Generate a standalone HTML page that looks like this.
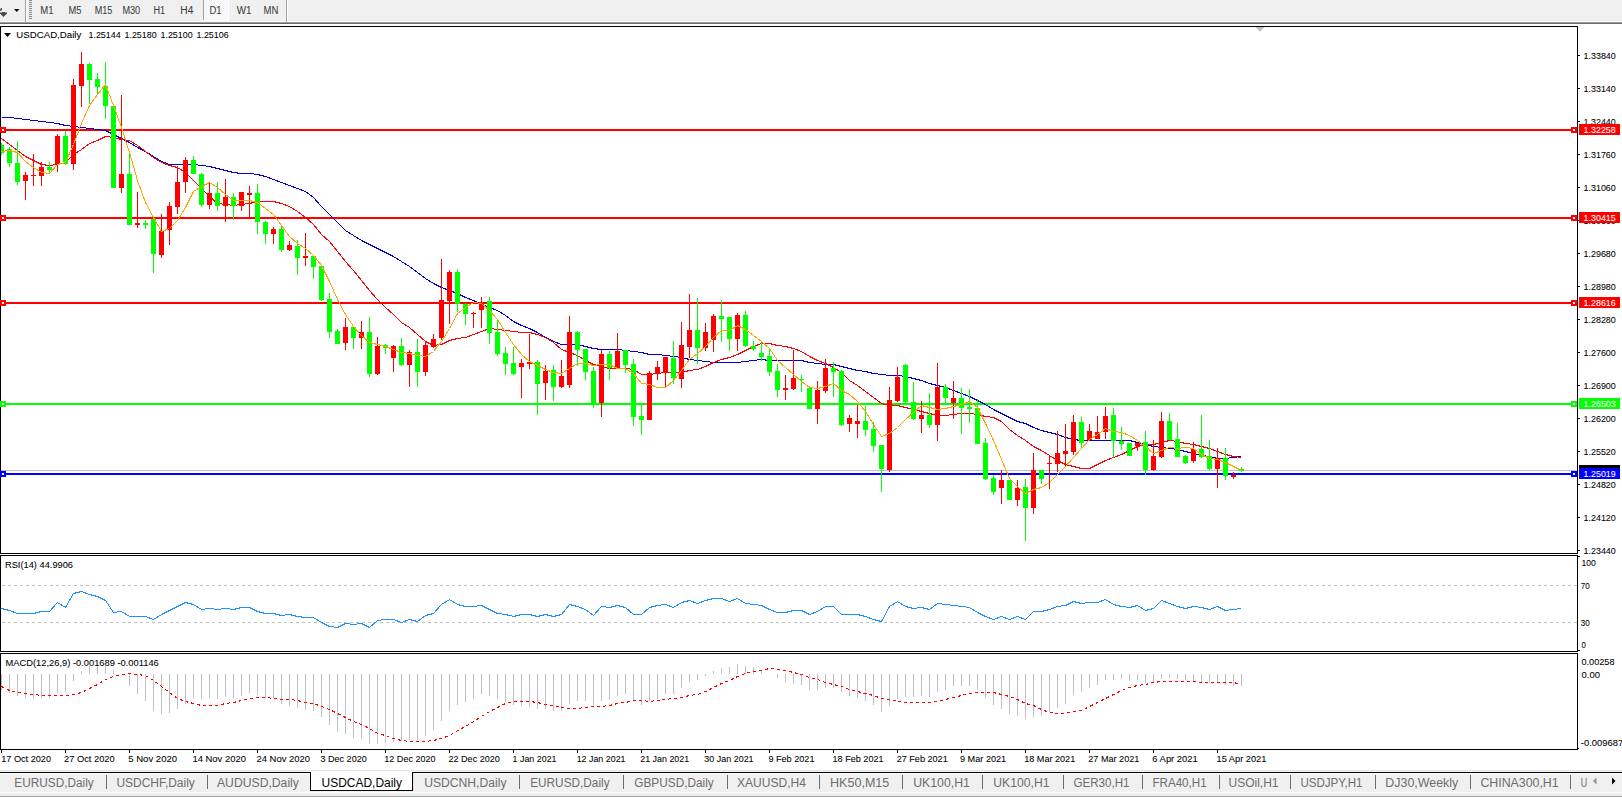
<!DOCTYPE html>
<html><head><meta charset="utf-8"><title>USDCAD,Daily</title>
<style>
html,body{margin:0;padding:0;background:#fff;overflow:hidden;}
svg{display:block;font-family:"Liberation Sans", sans-serif;}
rect{shape-rendering:crispEdges;}
polyline{shape-rendering:crispEdges;}
line{shape-rendering:crispEdges;}
</style></head><body>
<svg width="1622" height="797" viewBox="0 0 1622 797">
<rect x="0" y="0" width="1622" height="797" fill="#fff"/>
<rect x="0" y="0" width="1622" height="21" fill="#f0f0f0"/>
<rect x="0" y="21" width="1622" height="1" fill="#f7f7f7"/>
<rect x="0" y="22" width="1622" height="1" fill="#a0a0a0"/>
<rect x="0" y="23" width="1622" height="1" fill="#696969"/>
<path d="M0 12.6 L7 12.6 L7 13.6 L3.5 17 L0 13.6 Z" fill="#484848"/>
<rect x="2" y="12" width="3" height="1" fill="#484848"/>
<path d="M0 10.9 L0 9.6 L1.1 7.9 L2 7.9 L2 9.2 L0.9 10.9 Z" fill="#484848"/>
<path d="M14 9 L19.5 9 L16.75 12 Z" fill="#000"/>
<rect x="25" y="0" width="1" height="22" fill="#a0a0a0"/>
<rect x="26" y="0" width="1" height="22" fill="#ffffff"/>
<rect x="29" y="0" width="3" height="1" fill="#8a8a8a"/>
<rect x="29" y="2" width="3" height="1" fill="#8a8a8a"/>
<rect x="29" y="4" width="3" height="1" fill="#8a8a8a"/>
<rect x="29" y="6" width="3" height="1" fill="#8a8a8a"/>
<rect x="29" y="8" width="3" height="1" fill="#8a8a8a"/>
<rect x="29" y="10" width="3" height="1" fill="#8a8a8a"/>
<rect x="29" y="12" width="3" height="1" fill="#8a8a8a"/>
<rect x="29" y="14" width="3" height="1" fill="#8a8a8a"/>
<rect x="29" y="16" width="3" height="1" fill="#8a8a8a"/>
<rect x="29" y="18" width="3" height="1" fill="#8a8a8a"/>
<defs><pattern id="dith" width="2" height="2" patternUnits="userSpaceOnUse"><rect width="2" height="2" fill="#f0f0f0"/><rect width="1" height="1" fill="#ffffff"/><rect x="1" y="1" width="1" height="1" fill="#ffffff"/></pattern></defs>
<rect x="203" y="0" width="26" height="21" fill="url(#dith)"/>
<rect x="203" y="0" width="1" height="20" fill="#a0a0a0"/>
<rect x="228" y="0" width="1" height="21" fill="#ffffff"/>
<rect x="203" y="20" width="26" height="1" fill="#ffffff"/>
<rect x="286" y="0" width="1" height="22" fill="#a0a0a0"/>
<rect x="287" y="0" width="1" height="22" fill="#ffffff"/>
<text x="40.3" y="13.9" font-size="10.01" fill="#404040" stroke="#404040" stroke-width="0.07" textLength="13.3" lengthAdjust="spacingAndGlyphs">M1</text>
<text x="68.4" y="13.9" font-size="10.01" fill="#404040" stroke="#404040" stroke-width="0.07" textLength="13.0" lengthAdjust="spacingAndGlyphs">M5</text>
<text x="94.7" y="13.9" font-size="10.01" fill="#404040" stroke="#404040" stroke-width="0.07" textLength="17.6" lengthAdjust="spacingAndGlyphs">M15</text>
<text x="122.4" y="13.9" font-size="10.01" fill="#404040" stroke="#404040" stroke-width="0.07" textLength="17.8" lengthAdjust="spacingAndGlyphs">M30</text>
<text x="153.5" y="13.9" font-size="10.01" fill="#404040" stroke="#404040" stroke-width="0.07" textLength="11.7" lengthAdjust="spacingAndGlyphs">H1</text>
<text x="180.3" y="13.9" font-size="10.01" fill="#404040" stroke="#404040" stroke-width="0.07" textLength="13.0" lengthAdjust="spacingAndGlyphs">H4</text>
<text x="209.5" y="13.9" font-size="10.01" fill="#404040" stroke="#404040" stroke-width="0.07" textLength="12.1" lengthAdjust="spacingAndGlyphs">D1</text>
<text x="236.7" y="13.9" font-size="10.01" fill="#404040" stroke="#404040" stroke-width="0.07" textLength="14.8" lengthAdjust="spacingAndGlyphs">W1</text>
<text x="263.5" y="13.9" font-size="10.01" fill="#404040" stroke="#404040" stroke-width="0.07" textLength="14.8" lengthAdjust="spacingAndGlyphs">MN</text>
<rect x="0" y="26" width="1578" height="1" fill="#000"/>
<rect x="0" y="553" width="1578" height="1" fill="#000"/>
<rect x="0" y="26" width="1" height="528" fill="#000"/>
<rect x="1577" y="26" width="1" height="528" fill="#000"/>
<rect x="0" y="555" width="1578" height="1" fill="#000"/>
<rect x="0" y="651" width="1578" height="1" fill="#000"/>
<rect x="0" y="555" width="1" height="97" fill="#000"/>
<rect x="1577" y="555" width="1" height="97" fill="#000"/>
<rect x="0" y="653" width="1578" height="1" fill="#000"/>
<rect x="0" y="749" width="1578" height="1" fill="#000"/>
<rect x="0" y="653" width="1" height="97" fill="#000"/>
<rect x="1577" y="653" width="1" height="97" fill="#000"/>
<path d="M1255.5 27 L1264.5 27 L1260 31.8 Z" fill="#c0c0c0"/>
<clipPath id="mainclip"><rect x="1" y="27" width="1576" height="526"/></clipPath>
<g clip-path="url(#mainclip)">
<rect x="1" y="470" width="1576" height="1" fill="#c0c0c0"/>
<rect x="1" y="129" width="1576" height="2" fill="#ff0000"/>
<rect x="1" y="217" width="1576" height="2" fill="#ff0000"/>
<rect x="1" y="302" width="1576" height="2" fill="#ff0000"/>
<rect x="1" y="403" width="1576" height="2" fill="#00ff00"/>
<rect x="1" y="473" width="1576" height="2" fill="#0000ff"/>
<polyline points="1.5,117.5 9.5,117.5 17.5,118.5 25.5,119.5 33.5,120.5 41.5,121.5 49.5,122.5 57.5,123.5 65.5,125.5 73.5,126.5 81.5,127.5 89.5,128.5 97.5,129.5 105.5,130.5 113.5,134.5 121.5,138.5 129.5,142.5 137.5,147.5 145.5,151.5 153.5,156.5 161.5,161.5 169.5,164.5 177.5,164.5 185.5,164.5 193.5,164.5 201.5,165.5 209.5,166.5 217.5,168.5 225.5,170.5 233.5,172.5 241.5,173.5 249.5,173.5 257.5,174.5 265.5,176.5 273.5,179.5 281.5,182.5 289.5,185.5 297.5,188.5 305.5,191.5 313.5,197.5 321.5,206.5 329.5,214.5 337.5,222.5 345.5,230.5 353.5,235.5 361.5,240.5 369.5,244.5 377.5,248.5 385.5,252.5 393.5,256.5 401.5,261.5 409.5,266.5 417.5,272.5 425.5,278.5 433.5,283.5 441.5,287.5 449.5,290.5 457.5,293.5 465.5,297.5 473.5,300.5 481.5,304.5 489.5,307.5 497.5,310.5 505.5,315.5 513.5,321.5 521.5,325.5 529.5,328.5 537.5,332.5 545.5,337.5 553.5,341.5 561.5,344.5 569.5,344.5 577.5,344.5 585.5,346.5 593.5,348.5 601.5,349.5 609.5,349.5 617.5,349.5 625.5,350.5 633.5,351.5 641.5,352.5 649.5,354.5 657.5,354.5 665.5,355.5 673.5,356.5 681.5,357.5 689.5,359.5 697.5,360.5 705.5,361.5 713.5,362.5 721.5,362.5 729.5,362.5 737.5,362.5 745.5,361.5 753.5,360.5 761.5,359.5 769.5,360.5 777.5,360.5 785.5,360.5 793.5,360.5 801.5,360.5 809.5,362.5 817.5,363.5 825.5,364.5 833.5,364.5 841.5,366.5 849.5,368.5 857.5,370.5 865.5,371.5 873.5,373.5 881.5,374.5 889.5,375.5 897.5,375.5 905.5,376.5 913.5,378.5 921.5,380.5 929.5,383.5 937.5,385.5 945.5,387.5 953.5,390.5 961.5,393.5 969.5,396.5 977.5,400.5 985.5,404.5 993.5,409.5 1001.5,413.5 1009.5,417.5 1017.5,421.5 1025.5,423.5 1033.5,427.5 1041.5,430.5 1049.5,432.5 1057.5,434.5 1065.5,437.5 1073.5,439.5 1081.5,440.5 1089.5,440.5 1097.5,440.5 1105.5,440.5 1113.5,440.5 1121.5,440.5 1129.5,440.5 1137.5,442.5 1145.5,444.5 1153.5,446.5 1161.5,447.5 1169.5,448.5 1177.5,449.5 1185.5,451.5 1193.5,453.5 1201.5,455.5 1209.5,456.5 1217.5,458.5 1225.5,458.5 1233.5,457.5 1241.5,456.5" fill="none" stroke="#0000cd" stroke-width="1" />
<polyline points="1.5,138.5 9.5,144.5 17.5,150.5 25.5,156.5 33.5,160.5 41.5,164.5 49.5,165.5 57.5,164.5 65.5,162.5 73.5,154.5 81.5,149.5 89.5,143.5 97.5,140.5 105.5,136.5 113.5,137.5 121.5,139.5 129.5,140.5 137.5,145.5 145.5,151.5 153.5,157.5 161.5,162.5 169.5,165.5 177.5,167.5 185.5,172.5 193.5,180.5 201.5,188.5 209.5,196.5 217.5,203.5 225.5,204.5 233.5,205.5 241.5,204.5 249.5,203.5 257.5,201.5 265.5,201.5 273.5,201.5 281.5,203.5 289.5,206.5 297.5,211.5 305.5,217.5 313.5,224.5 321.5,234.5 329.5,241.5 337.5,251.5 345.5,261.5 353.5,270.5 361.5,280.5 369.5,290.5 377.5,299.5 385.5,307.5 393.5,314.5 401.5,322.5 409.5,327.5 417.5,334.5 425.5,341.5 433.5,345.5 441.5,344.5 449.5,340.5 457.5,338.5 465.5,337.5 473.5,334.5 481.5,331.5 489.5,328.5 497.5,329.5 505.5,330.5 513.5,331.5 521.5,332.5 529.5,332.5 537.5,334.5 545.5,337.5 553.5,342.5 561.5,349.5 569.5,352.5 577.5,355.5 585.5,360.5 593.5,364.5 601.5,366.5 609.5,368.5 617.5,368.5 625.5,368.5 633.5,369.5 641.5,374.5 649.5,374.5 657.5,373.5 665.5,372.5 673.5,372.5 681.5,372.5 689.5,370.5 697.5,369.5 705.5,366.5 713.5,362.5 721.5,359.5 729.5,357.5 737.5,354.5 745.5,350.5 753.5,346.5 761.5,343.5 769.5,343.5 777.5,345.5 785.5,346.5 793.5,348.5 801.5,351.5 809.5,356.5 817.5,360.5 825.5,363.5 833.5,367.5 841.5,372.5 849.5,380.5 857.5,385.5 865.5,391.5 873.5,397.5 881.5,403.5 889.5,405.5 897.5,405.5 905.5,407.5 913.5,409.5 921.5,411.5 929.5,413.5 937.5,415.5 945.5,415.5 953.5,414.5 961.5,413.5 969.5,413.5 977.5,414.5 985.5,416.5 993.5,417.5 1001.5,421.5 1009.5,429.5 1017.5,435.5 1025.5,440.5 1033.5,446.5 1041.5,450.5 1049.5,455.5 1057.5,460.5 1065.5,464.5 1073.5,466.5 1081.5,468.5 1089.5,468.5 1097.5,464.5 1105.5,460.5 1113.5,457.5 1121.5,454.5 1129.5,450.5 1137.5,446.5 1145.5,444.5 1153.5,444.5 1161.5,442.5 1169.5,440.5 1177.5,441.5 1185.5,443.5 1193.5,444.5 1201.5,446.5 1209.5,448.5 1217.5,451.5 1225.5,454.5 1233.5,456.5 1241.5,457.5" fill="none" stroke="#ff0000" stroke-width="1" />
<rect x="1" y="143" width="1" height="12" fill="#00ff00"/>
<rect x="-1" y="145" width="5" height="8" fill="#00ff00"/>
<rect x="9" y="147" width="1" height="20" fill="#00ff00"/>
<rect x="7" y="149" width="5" height="14" fill="#00ff00"/>
<rect x="17" y="141" width="1" height="44" fill="#00ff00"/>
<rect x="15" y="163" width="5" height="19" fill="#00ff00"/>
<rect x="25" y="172" width="1" height="28" fill="#ff0000"/>
<rect x="23" y="175" width="5" height="6" fill="#ff0000"/>
<rect x="33" y="154" width="1" height="32" fill="#ff0000"/>
<rect x="31" y="175" width="5" height="1" fill="#ff0000"/>
<rect x="41" y="162" width="1" height="24" fill="#ff0000"/>
<rect x="39" y="167" width="5" height="9" fill="#ff0000"/>
<rect x="49" y="162" width="1" height="11" fill="#00ff00"/>
<rect x="47" y="167" width="5" height="3" fill="#00ff00"/>
<rect x="57" y="134" width="1" height="38" fill="#ff0000"/>
<rect x="55" y="136" width="5" height="28" fill="#ff0000"/>
<rect x="65" y="131" width="1" height="34" fill="#00ff00"/>
<rect x="63" y="136" width="5" height="28" fill="#00ff00"/>
<rect x="73" y="79" width="1" height="91" fill="#ff0000"/>
<rect x="71" y="85" width="5" height="79" fill="#ff0000"/>
<rect x="81" y="52" width="1" height="55" fill="#ff0000"/>
<rect x="79" y="64" width="5" height="22" fill="#ff0000"/>
<rect x="89" y="63" width="1" height="41" fill="#00ff00"/>
<rect x="87" y="64" width="5" height="16" fill="#00ff00"/>
<rect x="97" y="73" width="1" height="22" fill="#00ff00"/>
<rect x="95" y="79" width="5" height="8" fill="#00ff00"/>
<rect x="105" y="62" width="1" height="57" fill="#00ff00"/>
<rect x="103" y="86" width="5" height="20" fill="#00ff00"/>
<rect x="113" y="106" width="1" height="82" fill="#00ff00"/>
<rect x="111" y="106" width="5" height="82" fill="#00ff00"/>
<rect x="121" y="95" width="1" height="98" fill="#ff0000"/>
<rect x="119" y="174" width="5" height="14" fill="#ff0000"/>
<rect x="129" y="153" width="1" height="72" fill="#00ff00"/>
<rect x="127" y="174" width="5" height="51" fill="#00ff00"/>
<rect x="137" y="192" width="1" height="36" fill="#ff0000"/>
<rect x="135" y="223" width="5" height="2" fill="#ff0000"/>
<rect x="145" y="220" width="1" height="9" fill="#00ff00"/>
<rect x="143" y="223" width="5" height="2" fill="#00ff00"/>
<rect x="153" y="219" width="1" height="54" fill="#00ff00"/>
<rect x="151" y="219" width="5" height="35" fill="#00ff00"/>
<rect x="161" y="214" width="1" height="44" fill="#ff0000"/>
<rect x="159" y="231" width="5" height="24" fill="#ff0000"/>
<rect x="169" y="202" width="1" height="43" fill="#ff0000"/>
<rect x="167" y="206" width="5" height="24" fill="#ff0000"/>
<rect x="177" y="166" width="1" height="48" fill="#ff0000"/>
<rect x="175" y="182" width="5" height="25" fill="#ff0000"/>
<rect x="185" y="157" width="1" height="36" fill="#ff0000"/>
<rect x="183" y="160" width="5" height="22" fill="#ff0000"/>
<rect x="193" y="156" width="1" height="18" fill="#00ff00"/>
<rect x="191" y="160" width="5" height="14" fill="#00ff00"/>
<rect x="201" y="173" width="1" height="34" fill="#00ff00"/>
<rect x="199" y="174" width="5" height="31" fill="#00ff00"/>
<rect x="209" y="183" width="1" height="26" fill="#ff0000"/>
<rect x="207" y="193" width="5" height="12" fill="#ff0000"/>
<rect x="217" y="182" width="1" height="29" fill="#00ff00"/>
<rect x="215" y="193" width="5" height="13" fill="#00ff00"/>
<rect x="225" y="179" width="1" height="43" fill="#ff0000"/>
<rect x="223" y="197" width="5" height="9" fill="#ff0000"/>
<rect x="233" y="193" width="1" height="27" fill="#00ff00"/>
<rect x="231" y="197" width="5" height="9" fill="#00ff00"/>
<rect x="241" y="192" width="1" height="19" fill="#ff0000"/>
<rect x="239" y="192" width="5" height="14" fill="#ff0000"/>
<rect x="249" y="186" width="1" height="31" fill="#ff0000"/>
<rect x="247" y="193" width="5" height="2" fill="#ff0000"/>
<rect x="257" y="184" width="1" height="50" fill="#00ff00"/>
<rect x="255" y="193" width="5" height="29" fill="#00ff00"/>
<rect x="265" y="221" width="1" height="23" fill="#00ff00"/>
<rect x="263" y="222" width="5" height="12" fill="#00ff00"/>
<rect x="273" y="227" width="1" height="17" fill="#ff0000"/>
<rect x="271" y="229" width="5" height="5" fill="#ff0000"/>
<rect x="281" y="226" width="1" height="26" fill="#00ff00"/>
<rect x="279" y="229" width="5" height="21" fill="#00ff00"/>
<rect x="289" y="241" width="1" height="10" fill="#ff0000"/>
<rect x="287" y="245" width="5" height="5" fill="#ff0000"/>
<rect x="297" y="240" width="1" height="35" fill="#00ff00"/>
<rect x="295" y="246" width="5" height="12" fill="#00ff00"/>
<rect x="305" y="233" width="1" height="33" fill="#ff0000"/>
<rect x="303" y="256" width="5" height="2" fill="#ff0000"/>
<rect x="313" y="255" width="1" height="24" fill="#00ff00"/>
<rect x="311" y="256" width="5" height="11" fill="#00ff00"/>
<rect x="321" y="265" width="1" height="36" fill="#00ff00"/>
<rect x="319" y="266" width="5" height="34" fill="#00ff00"/>
<rect x="329" y="293" width="1" height="45" fill="#00ff00"/>
<rect x="327" y="299" width="5" height="33" fill="#00ff00"/>
<rect x="337" y="329" width="1" height="15" fill="#00ff00"/>
<rect x="335" y="331" width="5" height="13" fill="#00ff00"/>
<rect x="345" y="318" width="1" height="32" fill="#ff0000"/>
<rect x="343" y="327" width="5" height="16" fill="#ff0000"/>
<rect x="353" y="327" width="1" height="22" fill="#00ff00"/>
<rect x="351" y="327" width="5" height="11" fill="#00ff00"/>
<rect x="361" y="321" width="1" height="28" fill="#ff0000"/>
<rect x="359" y="332" width="5" height="6" fill="#ff0000"/>
<rect x="369" y="317" width="1" height="60" fill="#00ff00"/>
<rect x="367" y="332" width="5" height="42" fill="#00ff00"/>
<rect x="377" y="337" width="1" height="38" fill="#ff0000"/>
<rect x="375" y="346" width="5" height="28" fill="#ff0000"/>
<rect x="385" y="344" width="1" height="10" fill="#00ff00"/>
<rect x="383" y="345" width="5" height="3" fill="#00ff00"/>
<rect x="393" y="345" width="1" height="27" fill="#ff0000"/>
<rect x="391" y="346" width="5" height="12" fill="#ff0000"/>
<rect x="401" y="338" width="1" height="28" fill="#00ff00"/>
<rect x="399" y="346" width="5" height="19" fill="#00ff00"/>
<rect x="409" y="350" width="1" height="37" fill="#ff0000"/>
<rect x="407" y="352" width="5" height="13" fill="#ff0000"/>
<rect x="417" y="339" width="1" height="48" fill="#00ff00"/>
<rect x="415" y="352" width="5" height="20" fill="#00ff00"/>
<rect x="425" y="342" width="1" height="34" fill="#ff0000"/>
<rect x="423" y="345" width="5" height="27" fill="#ff0000"/>
<rect x="433" y="334" width="1" height="14" fill="#ff0000"/>
<rect x="431" y="339" width="5" height="8" fill="#ff0000"/>
<rect x="441" y="259" width="1" height="81" fill="#ff0000"/>
<rect x="439" y="300" width="5" height="38" fill="#ff0000"/>
<rect x="449" y="270" width="1" height="54" fill="#ff0000"/>
<rect x="447" y="272" width="5" height="29" fill="#ff0000"/>
<rect x="457" y="269" width="1" height="43" fill="#00ff00"/>
<rect x="455" y="272" width="5" height="32" fill="#00ff00"/>
<rect x="465" y="303" width="1" height="22" fill="#00ff00"/>
<rect x="463" y="304" width="5" height="10" fill="#00ff00"/>
<rect x="473" y="312" width="1" height="16" fill="#ff0000"/>
<rect x="471" y="313" width="5" height="1" fill="#ff0000"/>
<rect x="481" y="297" width="1" height="31" fill="#ff0000"/>
<rect x="479" y="304" width="5" height="6" fill="#ff0000"/>
<rect x="489" y="297" width="1" height="47" fill="#00ff00"/>
<rect x="487" y="301" width="5" height="32" fill="#00ff00"/>
<rect x="497" y="320" width="1" height="36" fill="#00ff00"/>
<rect x="495" y="332" width="5" height="22" fill="#00ff00"/>
<rect x="505" y="347" width="1" height="28" fill="#00ff00"/>
<rect x="503" y="353" width="5" height="11" fill="#00ff00"/>
<rect x="513" y="347" width="1" height="28" fill="#00ff00"/>
<rect x="511" y="363" width="5" height="11" fill="#00ff00"/>
<rect x="521" y="359" width="1" height="39" fill="#ff0000"/>
<rect x="519" y="363" width="5" height="4" fill="#ff0000"/>
<rect x="529" y="334" width="1" height="35" fill="#ff0000"/>
<rect x="527" y="362" width="5" height="2" fill="#ff0000"/>
<rect x="537" y="360" width="1" height="55" fill="#00ff00"/>
<rect x="535" y="362" width="5" height="22" fill="#00ff00"/>
<rect x="545" y="365" width="1" height="35" fill="#ff0000"/>
<rect x="543" y="371" width="5" height="12" fill="#ff0000"/>
<rect x="553" y="365" width="1" height="36" fill="#00ff00"/>
<rect x="551" y="370" width="5" height="17" fill="#00ff00"/>
<rect x="561" y="360" width="1" height="28" fill="#ff0000"/>
<rect x="559" y="376" width="5" height="11" fill="#ff0000"/>
<rect x="569" y="316" width="1" height="72" fill="#ff0000"/>
<rect x="567" y="332" width="5" height="53" fill="#ff0000"/>
<rect x="577" y="331" width="1" height="35" fill="#00ff00"/>
<rect x="575" y="332" width="5" height="18" fill="#00ff00"/>
<rect x="585" y="349" width="1" height="31" fill="#00ff00"/>
<rect x="583" y="349" width="5" height="23" fill="#00ff00"/>
<rect x="593" y="367" width="1" height="41" fill="#00ff00"/>
<rect x="591" y="371" width="5" height="33" fill="#00ff00"/>
<rect x="601" y="350" width="1" height="67" fill="#ff0000"/>
<rect x="599" y="354" width="5" height="49" fill="#ff0000"/>
<rect x="609" y="351" width="1" height="29" fill="#00ff00"/>
<rect x="607" y="354" width="5" height="14" fill="#00ff00"/>
<rect x="617" y="333" width="1" height="36" fill="#ff0000"/>
<rect x="615" y="351" width="5" height="17" fill="#ff0000"/>
<rect x="625" y="350" width="1" height="23" fill="#00ff00"/>
<rect x="623" y="350" width="5" height="15" fill="#00ff00"/>
<rect x="633" y="359" width="1" height="67" fill="#00ff00"/>
<rect x="631" y="364" width="5" height="53" fill="#00ff00"/>
<rect x="641" y="405" width="1" height="30" fill="#00ff00"/>
<rect x="639" y="416" width="5" height="4" fill="#00ff00"/>
<rect x="649" y="371" width="1" height="49" fill="#ff0000"/>
<rect x="647" y="373" width="5" height="47" fill="#ff0000"/>
<rect x="657" y="361" width="1" height="19" fill="#ff0000"/>
<rect x="655" y="367" width="5" height="6" fill="#ff0000"/>
<rect x="665" y="357" width="1" height="31" fill="#ff0000"/>
<rect x="663" y="357" width="5" height="15" fill="#ff0000"/>
<rect x="673" y="341" width="1" height="43" fill="#00ff00"/>
<rect x="671" y="358" width="5" height="20" fill="#00ff00"/>
<rect x="681" y="322" width="1" height="66" fill="#ff0000"/>
<rect x="679" y="345" width="5" height="34" fill="#ff0000"/>
<rect x="689" y="294" width="1" height="64" fill="#ff0000"/>
<rect x="687" y="330" width="5" height="17" fill="#ff0000"/>
<rect x="697" y="298" width="1" height="66" fill="#00ff00"/>
<rect x="695" y="330" width="5" height="18" fill="#00ff00"/>
<rect x="705" y="323" width="1" height="28" fill="#ff0000"/>
<rect x="703" y="332" width="5" height="16" fill="#ff0000"/>
<rect x="713" y="314" width="1" height="38" fill="#ff0000"/>
<rect x="711" y="316" width="5" height="24" fill="#ff0000"/>
<rect x="721" y="300" width="1" height="42" fill="#00ff00"/>
<rect x="719" y="316" width="5" height="3" fill="#00ff00"/>
<rect x="729" y="317" width="1" height="34" fill="#00ff00"/>
<rect x="727" y="317" width="5" height="22" fill="#00ff00"/>
<rect x="737" y="313" width="1" height="38" fill="#ff0000"/>
<rect x="735" y="315" width="5" height="24" fill="#ff0000"/>
<rect x="745" y="311" width="1" height="36" fill="#00ff00"/>
<rect x="743" y="315" width="5" height="31" fill="#00ff00"/>
<rect x="753" y="341" width="1" height="10" fill="#00ff00"/>
<rect x="751" y="346" width="5" height="3" fill="#00ff00"/>
<rect x="761" y="342" width="1" height="19" fill="#00ff00"/>
<rect x="759" y="353" width="5" height="4" fill="#00ff00"/>
<rect x="769" y="348" width="1" height="28" fill="#00ff00"/>
<rect x="767" y="356" width="5" height="16" fill="#00ff00"/>
<rect x="777" y="364" width="1" height="33" fill="#00ff00"/>
<rect x="775" y="371" width="5" height="19" fill="#00ff00"/>
<rect x="785" y="375" width="1" height="25" fill="#ff0000"/>
<rect x="783" y="388" width="5" height="2" fill="#ff0000"/>
<rect x="793" y="350" width="1" height="40" fill="#ff0000"/>
<rect x="791" y="378" width="5" height="11" fill="#ff0000"/>
<rect x="801" y="375" width="1" height="17" fill="#00ff00"/>
<rect x="799" y="379" width="5" height="1" fill="#00ff00"/>
<rect x="809" y="386" width="1" height="23" fill="#00ff00"/>
<rect x="807" y="388" width="5" height="21" fill="#00ff00"/>
<rect x="817" y="381" width="1" height="43" fill="#ff0000"/>
<rect x="815" y="390" width="5" height="19" fill="#ff0000"/>
<rect x="825" y="359" width="1" height="34" fill="#ff0000"/>
<rect x="823" y="368" width="5" height="23" fill="#ff0000"/>
<rect x="833" y="362" width="1" height="35" fill="#00ff00"/>
<rect x="831" y="368" width="5" height="4" fill="#00ff00"/>
<rect x="841" y="370" width="1" height="56" fill="#00ff00"/>
<rect x="839" y="371" width="5" height="54" fill="#00ff00"/>
<rect x="849" y="415" width="1" height="17" fill="#ff0000"/>
<rect x="847" y="418" width="5" height="6" fill="#ff0000"/>
<rect x="857" y="405" width="1" height="33" fill="#ff0000"/>
<rect x="855" y="421" width="5" height="3" fill="#ff0000"/>
<rect x="865" y="406" width="1" height="30" fill="#00ff00"/>
<rect x="863" y="421" width="5" height="9" fill="#00ff00"/>
<rect x="873" y="422" width="1" height="30" fill="#00ff00"/>
<rect x="871" y="429" width="5" height="17" fill="#00ff00"/>
<rect x="881" y="445" width="1" height="47" fill="#00ff00"/>
<rect x="879" y="445" width="5" height="24" fill="#00ff00"/>
<rect x="889" y="387" width="1" height="85" fill="#ff0000"/>
<rect x="887" y="400" width="5" height="70" fill="#ff0000"/>
<rect x="897" y="367" width="1" height="35" fill="#ff0000"/>
<rect x="895" y="377" width="5" height="24" fill="#ff0000"/>
<rect x="905" y="364" width="1" height="39" fill="#00ff00"/>
<rect x="903" y="365" width="5" height="37" fill="#00ff00"/>
<rect x="913" y="382" width="1" height="38" fill="#00ff00"/>
<rect x="911" y="402" width="5" height="17" fill="#00ff00"/>
<rect x="921" y="401" width="1" height="32" fill="#ff0000"/>
<rect x="919" y="415" width="5" height="4" fill="#ff0000"/>
<rect x="929" y="393" width="1" height="35" fill="#00ff00"/>
<rect x="927" y="415" width="5" height="10" fill="#00ff00"/>
<rect x="937" y="363" width="1" height="78" fill="#ff0000"/>
<rect x="935" y="387" width="5" height="38" fill="#ff0000"/>
<rect x="945" y="384" width="1" height="19" fill="#00ff00"/>
<rect x="943" y="387" width="5" height="11" fill="#00ff00"/>
<rect x="953" y="381" width="1" height="38" fill="#ff0000"/>
<rect x="951" y="398" width="5" height="5" fill="#ff0000"/>
<rect x="961" y="388" width="1" height="46" fill="#00ff00"/>
<rect x="959" y="398" width="5" height="10" fill="#00ff00"/>
<rect x="969" y="389" width="1" height="34" fill="#00ff00"/>
<rect x="967" y="407" width="5" height="2" fill="#00ff00"/>
<rect x="977" y="399" width="1" height="45" fill="#00ff00"/>
<rect x="975" y="408" width="5" height="36" fill="#00ff00"/>
<rect x="985" y="438" width="1" height="42" fill="#00ff00"/>
<rect x="983" y="443" width="5" height="36" fill="#00ff00"/>
<rect x="993" y="475" width="1" height="20" fill="#00ff00"/>
<rect x="991" y="478" width="5" height="14" fill="#00ff00"/>
<rect x="1001" y="470" width="1" height="34" fill="#ff0000"/>
<rect x="999" y="480" width="5" height="8" fill="#ff0000"/>
<rect x="1009" y="480" width="1" height="20" fill="#00ff00"/>
<rect x="1007" y="480" width="5" height="20" fill="#00ff00"/>
<rect x="1017" y="480" width="1" height="26" fill="#ff0000"/>
<rect x="1015" y="488" width="5" height="12" fill="#ff0000"/>
<rect x="1025" y="479" width="1" height="62" fill="#00ff00"/>
<rect x="1023" y="487" width="5" height="21" fill="#00ff00"/>
<rect x="1033" y="453" width="1" height="61" fill="#ff0000"/>
<rect x="1031" y="470" width="5" height="38" fill="#ff0000"/>
<rect x="1041" y="470" width="1" height="14" fill="#00ff00"/>
<rect x="1039" y="470" width="5" height="9" fill="#00ff00"/>
<rect x="1049" y="456" width="1" height="33" fill="#ff0000"/>
<rect x="1047" y="463" width="5" height="1" fill="#ff0000"/>
<rect x="1057" y="431" width="1" height="41" fill="#ff0000"/>
<rect x="1055" y="453" width="5" height="11" fill="#ff0000"/>
<rect x="1065" y="424" width="1" height="43" fill="#ff0000"/>
<rect x="1063" y="451" width="5" height="3" fill="#ff0000"/>
<rect x="1073" y="415" width="1" height="40" fill="#ff0000"/>
<rect x="1071" y="422" width="5" height="30" fill="#ff0000"/>
<rect x="1081" y="417" width="1" height="31" fill="#00ff00"/>
<rect x="1079" y="422" width="5" height="21" fill="#00ff00"/>
<rect x="1089" y="424" width="1" height="17" fill="#ff0000"/>
<rect x="1087" y="431" width="5" height="9" fill="#ff0000"/>
<rect x="1097" y="416" width="1" height="23" fill="#ff0000"/>
<rect x="1095" y="432" width="5" height="7" fill="#ff0000"/>
<rect x="1105" y="407" width="1" height="32" fill="#ff0000"/>
<rect x="1103" y="416" width="5" height="16" fill="#ff0000"/>
<rect x="1113" y="408" width="1" height="50" fill="#00ff00"/>
<rect x="1111" y="415" width="5" height="26" fill="#00ff00"/>
<rect x="1121" y="427" width="1" height="23" fill="#00ff00"/>
<rect x="1119" y="441" width="5" height="3" fill="#00ff00"/>
<rect x="1129" y="443" width="1" height="13" fill="#00ff00"/>
<rect x="1127" y="443" width="5" height="13" fill="#00ff00"/>
<rect x="1137" y="443" width="1" height="8" fill="#ff0000"/>
<rect x="1135" y="443" width="5" height="3" fill="#ff0000"/>
<rect x="1145" y="431" width="1" height="44" fill="#00ff00"/>
<rect x="1143" y="442" width="5" height="28" fill="#00ff00"/>
<rect x="1153" y="440" width="1" height="31" fill="#ff0000"/>
<rect x="1151" y="456" width="5" height="14" fill="#ff0000"/>
<rect x="1161" y="412" width="1" height="46" fill="#ff0000"/>
<rect x="1159" y="421" width="5" height="36" fill="#ff0000"/>
<rect x="1169" y="413" width="1" height="27" fill="#00ff00"/>
<rect x="1167" y="421" width="5" height="19" fill="#00ff00"/>
<rect x="1177" y="423" width="1" height="34" fill="#00ff00"/>
<rect x="1175" y="439" width="5" height="18" fill="#00ff00"/>
<rect x="1185" y="455" width="1" height="9" fill="#00ff00"/>
<rect x="1183" y="456" width="5" height="7" fill="#00ff00"/>
<rect x="1193" y="442" width="1" height="21" fill="#ff0000"/>
<rect x="1191" y="449" width="5" height="12" fill="#ff0000"/>
<rect x="1201" y="415" width="1" height="43" fill="#00ff00"/>
<rect x="1199" y="449" width="5" height="8" fill="#00ff00"/>
<rect x="1209" y="440" width="1" height="30" fill="#00ff00"/>
<rect x="1207" y="456" width="5" height="13" fill="#00ff00"/>
<rect x="1217" y="448" width="1" height="40" fill="#ff0000"/>
<rect x="1215" y="458" width="5" height="11" fill="#ff0000"/>
<rect x="1225" y="448" width="1" height="32" fill="#00ff00"/>
<rect x="1223" y="458" width="5" height="18" fill="#00ff00"/>
<rect x="1233" y="472" width="1" height="7" fill="#ff0000"/>
<rect x="1231" y="475" width="5" height="2" fill="#ff0000"/>
<rect x="1241" y="467" width="1" height="5" fill="#00ff00"/>
<rect x="1239" y="469" width="5" height="2" fill="#00ff00"/>
<polyline points="1.5,151.5 9.5,150.5 17.5,152.5 25.5,161.5 33.5,167.5 41.5,172.5 49.5,173.5 57.5,164.5 65.5,162.5 73.5,144.5 81.5,123.5 89.5,105.5 97.5,94.5 105.5,84.5 113.5,105.5 121.5,127.5 129.5,152.5 137.5,180.5 145.5,202.5 153.5,217.5 161.5,231.5 169.5,228.5 177.5,220.5 185.5,207.5 193.5,191.5 201.5,186.5 209.5,182.5 217.5,187.5 225.5,194.5 233.5,200.5 241.5,200.5 249.5,200.5 257.5,202.5 265.5,208.5 273.5,214.5 281.5,225.5 289.5,236.5 297.5,243.5 305.5,248.5 313.5,255.5 321.5,265.5 329.5,281.5 337.5,299.5 345.5,314.5 353.5,326.5 361.5,335.5 369.5,342.5 377.5,344.5 385.5,346.5 393.5,349.5 401.5,352.5 409.5,353.5 417.5,355.5 425.5,356.5 433.5,351.5 441.5,341.5 449.5,328.5 457.5,313.5 465.5,307.5 473.5,302.5 481.5,303.5 489.5,310.5 497.5,319.5 505.5,332.5 513.5,344.5 521.5,354.5 529.5,361.5 537.5,365.5 545.5,369.5 553.5,372.5 561.5,373.5 569.5,368.5 577.5,363.5 585.5,363.5 593.5,365.5 601.5,364.5 609.5,364.5 617.5,368.5 625.5,368.5 633.5,373.5 641.5,383.5 649.5,384.5 657.5,387.5 665.5,387.5 673.5,380.5 681.5,370.5 689.5,359.5 697.5,353.5 705.5,346.5 713.5,337.5 721.5,330.5 729.5,330.5 737.5,325.5 745.5,329.5 753.5,335.5 761.5,341.5 769.5,348.5 777.5,360.5 785.5,367.5 793.5,374.5 801.5,381.5 809.5,387.5 817.5,388.5 825.5,386.5 833.5,383.5 841.5,390.5 849.5,394.5 857.5,401.5 865.5,411.5 873.5,424.5 881.5,436.5 889.5,433.5 897.5,427.5 905.5,419.5 913.5,412.5 921.5,405.5 929.5,407.5 937.5,409.5 945.5,408.5 953.5,406.5 961.5,404.5 969.5,401.5 977.5,407.5 985.5,423.5 993.5,440.5 1001.5,459.5 1009.5,478.5 1017.5,486.5 1025.5,493.5 1033.5,489.5 1041.5,487.5 1049.5,482.5 1057.5,474.5 1065.5,466.5 1073.5,457.5 1081.5,448.5 1089.5,439.5 1097.5,434.5 1105.5,428.5 1113.5,431.5 1121.5,432.5 1129.5,435.5 1137.5,440.5 1145.5,446.5 1153.5,453.5 1161.5,450.5 1169.5,447.5 1177.5,448.5 1185.5,447.5 1193.5,448.5 1201.5,454.5 1209.5,458.5 1217.5,459.5 1225.5,462.5 1233.5,466.5 1241.5,470.5" fill="none" stroke="#ffa500" stroke-width="1" />
</g>
<rect x="0" y="127" width="6" height="6" fill="#ff0000"/>
<rect x="2" y="129" width="2" height="2" fill="#ffffff"/>
<rect x="1571" y="127" width="6" height="6" fill="#ff0000"/>
<rect x="1573" y="129" width="2" height="2" fill="#ffffff"/>
<rect x="0" y="215" width="6" height="6" fill="#ff0000"/>
<rect x="2" y="217" width="2" height="2" fill="#ffffff"/>
<rect x="1571" y="215" width="6" height="6" fill="#ff0000"/>
<rect x="1573" y="217" width="2" height="2" fill="#ffffff"/>
<rect x="0" y="300" width="6" height="6" fill="#ff0000"/>
<rect x="2" y="302" width="2" height="2" fill="#ffffff"/>
<rect x="1571" y="300" width="6" height="6" fill="#ff0000"/>
<rect x="1573" y="302" width="2" height="2" fill="#ffffff"/>
<rect x="0" y="401" width="6" height="6" fill="#00ff00"/>
<rect x="2" y="403" width="2" height="2" fill="#ffffff"/>
<rect x="1571" y="401" width="6" height="6" fill="#00ff00"/>
<rect x="1573" y="403" width="2" height="2" fill="#ffffff"/>
<rect x="0" y="471" width="6" height="6" fill="#0000ff"/>
<rect x="2" y="473" width="2" height="2" fill="#ffffff"/>
<rect x="1571" y="471" width="6" height="6" fill="#0000ff"/>
<rect x="1573" y="473" width="2" height="2" fill="#ffffff"/>
<clipPath id="rsiclip"><rect x="1" y="556" width="1576" height="95"/></clipPath>
<g clip-path="url(#rsiclip)">
<line x1="2" y1="585.5" x2="1577" y2="585.5" stroke="#c0c0c0" stroke-width="1" stroke-dasharray="3 3"/>
<line x1="2" y1="622.5" x2="1577" y2="622.5" stroke="#c0c0c0" stroke-width="1" stroke-dasharray="3 3"/>
<polyline points="1.5,608.5 9.5,610.5 17.5,613.5 25.5,613.5 33.5,613.5 41.5,611.5 49.5,611.5 57.5,602.5 65.5,607.5 73.5,593.5 81.5,591.5 89.5,594.5 97.5,596.5 105.5,600.5 113.5,612.5 121.5,611.5 129.5,616.5 137.5,616.5 145.5,616.5 153.5,619.5 161.5,614.5 169.5,610.5 177.5,606.5 185.5,602.5 193.5,604.5 201.5,609.5 209.5,608.5 217.5,609.5 225.5,608.5 233.5,609.5 241.5,607.5 249.5,607.5 257.5,611.5 265.5,613.5 273.5,613.5 281.5,615.5 289.5,614.5 297.5,616.5 305.5,617.5 313.5,617.5 321.5,622.5 329.5,626.5 337.5,627.5 345.5,623.5 353.5,624.5 361.5,623.5 369.5,627.5 377.5,620.5 385.5,619.5 393.5,619.5 401.5,622.5 409.5,619.5 417.5,621.5 425.5,615.5 433.5,613.5 441.5,604.5 449.5,599.5 457.5,604.5 465.5,606.5 473.5,606.5 481.5,605.5 489.5,609.5 497.5,613.5 505.5,614.5 513.5,616.5 521.5,614.5 529.5,614.5 537.5,616.5 545.5,614.5 553.5,616.5 561.5,614.5 569.5,604.5 577.5,606.5 585.5,609.5 593.5,615.5 601.5,606.5 609.5,607.5 617.5,605.5 625.5,607.5 633.5,614.5 641.5,614.5 649.5,607.5 657.5,605.5 665.5,604.5 673.5,607.5 681.5,602.5 689.5,600.5 697.5,603.5 705.5,600.5 713.5,598.5 721.5,598.5 729.5,601.5 737.5,598.5 745.5,603.5 753.5,604.5 761.5,605.5 769.5,609.5 777.5,612.5 785.5,612.5 793.5,610.5 801.5,610.5 809.5,614.5 817.5,611.5 825.5,606.5 833.5,606.5 841.5,614.5 849.5,614.5 857.5,614.5 865.5,616.5 873.5,619.5 881.5,621.5 889.5,606.5 897.5,601.5 905.5,606.5 913.5,608.5 921.5,607.5 929.5,609.5 937.5,603.5 945.5,604.5 953.5,605.5 961.5,606.5 969.5,607.5 977.5,612.5 985.5,616.5 993.5,619.5 1001.5,616.5 1009.5,619.5 1017.5,616.5 1025.5,619.5 1033.5,611.5 1041.5,611.5 1049.5,609.5 1057.5,606.5 1065.5,605.5 1073.5,601.5 1081.5,603.5 1089.5,602.5 1097.5,602.5 1105.5,599.5 1113.5,604.5 1121.5,606.5 1129.5,607.5 1137.5,605.5 1145.5,610.5 1153.5,608.5 1161.5,600.5 1169.5,603.5 1177.5,606.5 1185.5,608.5 1193.5,606.5 1201.5,607.5 1209.5,609.5 1217.5,606.5 1225.5,610.5 1233.5,609.5 1241.5,608.5" fill="none" stroke="#1e90ff" stroke-width="1" />
</g>
<clipPath id="macdclip"><rect x="1" y="654" width="1576" height="95"/></clipPath>
<g clip-path="url(#macdclip)">
<rect x="1" y="674" width="1" height="16" fill="#c0c0c0"/>
<rect x="9" y="674" width="1" height="19" fill="#c0c0c0"/>
<rect x="17" y="674" width="1" height="22" fill="#c0c0c0"/>
<rect x="25" y="674" width="1" height="24" fill="#c0c0c0"/>
<rect x="33" y="674" width="1" height="25" fill="#c0c0c0"/>
<rect x="41" y="674" width="1" height="24" fill="#c0c0c0"/>
<rect x="49" y="674" width="1" height="24" fill="#c0c0c0"/>
<rect x="57" y="674" width="1" height="19" fill="#c0c0c0"/>
<rect x="65" y="674" width="1" height="18" fill="#c0c0c0"/>
<rect x="73" y="674" width="1" height="7" fill="#c0c0c0"/>
<rect x="81" y="671" width="1" height="3" fill="#c0c0c0"/>
<rect x="89" y="666" width="1" height="8" fill="#c0c0c0"/>
<rect x="97" y="666" width="1" height="8" fill="#c0c0c0"/>
<rect x="105" y="666" width="1" height="8" fill="#c0c0c0"/>
<rect x="113" y="670" width="1" height="4" fill="#c0c0c0"/>
<rect x="129" y="674" width="1" height="12" fill="#c0c0c0"/>
<rect x="137" y="674" width="1" height="20" fill="#c0c0c0"/>
<rect x="145" y="674" width="1" height="27" fill="#c0c0c0"/>
<rect x="153" y="674" width="1" height="37" fill="#c0c0c0"/>
<rect x="161" y="674" width="1" height="40" fill="#c0c0c0"/>
<rect x="169" y="674" width="1" height="39" fill="#c0c0c0"/>
<rect x="177" y="674" width="1" height="35" fill="#c0c0c0"/>
<rect x="185" y="674" width="1" height="30" fill="#c0c0c0"/>
<rect x="193" y="674" width="1" height="24" fill="#c0c0c0"/>
<rect x="201" y="674" width="1" height="25" fill="#c0c0c0"/>
<rect x="209" y="674" width="1" height="24" fill="#c0c0c0"/>
<rect x="217" y="674" width="1" height="25" fill="#c0c0c0"/>
<rect x="225" y="674" width="1" height="23" fill="#c0c0c0"/>
<rect x="233" y="674" width="1" height="24" fill="#c0c0c0"/>
<rect x="241" y="674" width="1" height="22" fill="#c0c0c0"/>
<rect x="249" y="674" width="1" height="19" fill="#c0c0c0"/>
<rect x="257" y="674" width="1" height="21" fill="#c0c0c0"/>
<rect x="265" y="674" width="1" height="24" fill="#c0c0c0"/>
<rect x="273" y="674" width="1" height="24" fill="#c0c0c0"/>
<rect x="281" y="674" width="1" height="30" fill="#c0c0c0"/>
<rect x="289" y="674" width="1" height="32" fill="#c0c0c0"/>
<rect x="297" y="674" width="1" height="34" fill="#c0c0c0"/>
<rect x="305" y="674" width="1" height="36" fill="#c0c0c0"/>
<rect x="313" y="674" width="1" height="37" fill="#c0c0c0"/>
<rect x="321" y="674" width="1" height="43" fill="#c0c0c0"/>
<rect x="329" y="674" width="1" height="51" fill="#c0c0c0"/>
<rect x="337" y="674" width="1" height="58" fill="#c0c0c0"/>
<rect x="345" y="674" width="1" height="60" fill="#c0c0c0"/>
<rect x="353" y="674" width="1" height="64" fill="#c0c0c0"/>
<rect x="361" y="674" width="1" height="65" fill="#c0c0c0"/>
<rect x="369" y="674" width="1" height="70" fill="#c0c0c0"/>
<rect x="377" y="674" width="1" height="70" fill="#c0c0c0"/>
<rect x="385" y="674" width="1" height="69" fill="#c0c0c0"/>
<rect x="393" y="674" width="1" height="68" fill="#c0c0c0"/>
<rect x="401" y="674" width="1" height="67" fill="#c0c0c0"/>
<rect x="409" y="674" width="1" height="66" fill="#c0c0c0"/>
<rect x="417" y="674" width="1" height="66" fill="#c0c0c0"/>
<rect x="425" y="674" width="1" height="62" fill="#c0c0c0"/>
<rect x="433" y="674" width="1" height="56" fill="#c0c0c0"/>
<rect x="441" y="674" width="1" height="47" fill="#c0c0c0"/>
<rect x="449" y="674" width="1" height="37" fill="#c0c0c0"/>
<rect x="457" y="674" width="1" height="31" fill="#c0c0c0"/>
<rect x="465" y="674" width="1" height="28" fill="#c0c0c0"/>
<rect x="473" y="674" width="1" height="25" fill="#c0c0c0"/>
<rect x="481" y="674" width="1" height="20" fill="#c0c0c0"/>
<rect x="489" y="674" width="1" height="22" fill="#c0c0c0"/>
<rect x="497" y="674" width="1" height="25" fill="#c0c0c0"/>
<rect x="505" y="674" width="1" height="28" fill="#c0c0c0"/>
<rect x="513" y="674" width="1" height="31" fill="#c0c0c0"/>
<rect x="521" y="674" width="1" height="32" fill="#c0c0c0"/>
<rect x="529" y="674" width="1" height="33" fill="#c0c0c0"/>
<rect x="537" y="674" width="1" height="35" fill="#c0c0c0"/>
<rect x="545" y="674" width="1" height="35" fill="#c0c0c0"/>
<rect x="553" y="674" width="1" height="37" fill="#c0c0c0"/>
<rect x="561" y="674" width="1" height="37" fill="#c0c0c0"/>
<rect x="569" y="674" width="1" height="30" fill="#c0c0c0"/>
<rect x="577" y="674" width="1" height="27" fill="#c0c0c0"/>
<rect x="585" y="674" width="1" height="27" fill="#c0c0c0"/>
<rect x="593" y="674" width="1" height="31" fill="#c0c0c0"/>
<rect x="601" y="674" width="1" height="27" fill="#c0c0c0"/>
<rect x="609" y="674" width="1" height="26" fill="#c0c0c0"/>
<rect x="617" y="674" width="1" height="22" fill="#c0c0c0"/>
<rect x="625" y="674" width="1" height="20" fill="#c0c0c0"/>
<rect x="633" y="674" width="1" height="26" fill="#c0c0c0"/>
<rect x="641" y="674" width="1" height="31" fill="#c0c0c0"/>
<rect x="649" y="674" width="1" height="27" fill="#c0c0c0"/>
<rect x="657" y="674" width="1" height="25" fill="#c0c0c0"/>
<rect x="665" y="674" width="1" height="20" fill="#c0c0c0"/>
<rect x="673" y="674" width="1" height="20" fill="#c0c0c0"/>
<rect x="681" y="674" width="1" height="14" fill="#c0c0c0"/>
<rect x="689" y="674" width="1" height="8" fill="#c0c0c0"/>
<rect x="697" y="674" width="1" height="6" fill="#c0c0c0"/>
<rect x="705" y="674" width="1" height="2" fill="#c0c0c0"/>
<rect x="713" y="671" width="1" height="3" fill="#c0c0c0"/>
<rect x="721" y="668" width="1" height="6" fill="#c0c0c0"/>
<rect x="729" y="667" width="1" height="7" fill="#c0c0c0"/>
<rect x="737" y="664" width="1" height="10" fill="#c0c0c0"/>
<rect x="745" y="666" width="1" height="8" fill="#c0c0c0"/>
<rect x="753" y="667" width="1" height="7" fill="#c0c0c0"/>
<rect x="761" y="670" width="1" height="4" fill="#c0c0c0"/>
<rect x="777" y="674" width="1" height="4" fill="#c0c0c0"/>
<rect x="785" y="674" width="1" height="8" fill="#c0c0c0"/>
<rect x="793" y="674" width="1" height="10" fill="#c0c0c0"/>
<rect x="801" y="674" width="1" height="11" fill="#c0c0c0"/>
<rect x="809" y="674" width="1" height="16" fill="#c0c0c0"/>
<rect x="817" y="674" width="1" height="16" fill="#c0c0c0"/>
<rect x="825" y="674" width="1" height="14" fill="#c0c0c0"/>
<rect x="833" y="674" width="1" height="14" fill="#c0c0c0"/>
<rect x="841" y="674" width="1" height="18" fill="#c0c0c0"/>
<rect x="849" y="674" width="1" height="22" fill="#c0c0c0"/>
<rect x="857" y="674" width="1" height="24" fill="#c0c0c0"/>
<rect x="865" y="674" width="1" height="27" fill="#c0c0c0"/>
<rect x="873" y="674" width="1" height="31" fill="#c0c0c0"/>
<rect x="881" y="674" width="1" height="38" fill="#c0c0c0"/>
<rect x="889" y="674" width="1" height="32" fill="#c0c0c0"/>
<rect x="897" y="674" width="1" height="25" fill="#c0c0c0"/>
<rect x="905" y="674" width="1" height="23" fill="#c0c0c0"/>
<rect x="913" y="674" width="1" height="23" fill="#c0c0c0"/>
<rect x="921" y="674" width="1" height="22" fill="#c0c0c0"/>
<rect x="929" y="674" width="1" height="23" fill="#c0c0c0"/>
<rect x="937" y="674" width="1" height="18" fill="#c0c0c0"/>
<rect x="945" y="674" width="1" height="16" fill="#c0c0c0"/>
<rect x="953" y="674" width="1" height="12" fill="#c0c0c0"/>
<rect x="961" y="674" width="1" height="12" fill="#c0c0c0"/>
<rect x="969" y="674" width="1" height="12" fill="#c0c0c0"/>
<rect x="977" y="674" width="1" height="16" fill="#c0c0c0"/>
<rect x="985" y="674" width="1" height="24" fill="#c0c0c0"/>
<rect x="993" y="674" width="1" height="31" fill="#c0c0c0"/>
<rect x="1001" y="674" width="1" height="35" fill="#c0c0c0"/>
<rect x="1009" y="674" width="1" height="40" fill="#c0c0c0"/>
<rect x="1017" y="674" width="1" height="42" fill="#c0c0c0"/>
<rect x="1025" y="674" width="1" height="45" fill="#c0c0c0"/>
<rect x="1033" y="674" width="1" height="43" fill="#c0c0c0"/>
<rect x="1041" y="674" width="1" height="42" fill="#c0c0c0"/>
<rect x="1049" y="674" width="1" height="38" fill="#c0c0c0"/>
<rect x="1057" y="674" width="1" height="34" fill="#c0c0c0"/>
<rect x="1065" y="674" width="1" height="30" fill="#c0c0c0"/>
<rect x="1073" y="674" width="1" height="21" fill="#c0c0c0"/>
<rect x="1081" y="674" width="1" height="18" fill="#c0c0c0"/>
<rect x="1089" y="674" width="1" height="14" fill="#c0c0c0"/>
<rect x="1097" y="674" width="1" height="11" fill="#c0c0c0"/>
<rect x="1105" y="674" width="1" height="6" fill="#c0c0c0"/>
<rect x="1113" y="674" width="1" height="6" fill="#c0c0c0"/>
<rect x="1121" y="674" width="1" height="5" fill="#c0c0c0"/>
<rect x="1129" y="674" width="1" height="7" fill="#c0c0c0"/>
<rect x="1137" y="674" width="1" height="6" fill="#c0c0c0"/>
<rect x="1145" y="674" width="1" height="9" fill="#c0c0c0"/>
<rect x="1153" y="674" width="1" height="8" fill="#c0c0c0"/>
<rect x="1161" y="674" width="1" height="5" fill="#c0c0c0"/>
<rect x="1169" y="674" width="1" height="4" fill="#c0c0c0"/>
<rect x="1177" y="674" width="1" height="5" fill="#c0c0c0"/>
<rect x="1185" y="674" width="1" height="6" fill="#c0c0c0"/>
<rect x="1193" y="674" width="1" height="7" fill="#c0c0c0"/>
<rect x="1201" y="674" width="1" height="8" fill="#c0c0c0"/>
<rect x="1209" y="674" width="1" height="9" fill="#c0c0c0"/>
<rect x="1217" y="674" width="1" height="9" fill="#c0c0c0"/>
<rect x="1225" y="674" width="1" height="11" fill="#c0c0c0"/>
<rect x="1233" y="674" width="1" height="12" fill="#c0c0c0"/>
<rect x="1241" y="674" width="1" height="12" fill="#c0c0c0"/>
<polyline points="1.5,686.5 9.5,690.5 17.5,692.5 25.5,693.5 33.5,694.5 41.5,695.5 49.5,695.5 57.5,695.5 65.5,695.5 73.5,694.5 81.5,692.5 89.5,688.5 97.5,684.5 105.5,679.5 113.5,676.5 121.5,674.5 129.5,673.5 137.5,674.5 145.5,675.5 153.5,680.5 161.5,686.5 169.5,692.5 177.5,698.5 185.5,701.5 193.5,703.5 201.5,705.5 209.5,705.5 217.5,705.5 225.5,703.5 233.5,702.5 241.5,700.5 249.5,698.5 257.5,697.5 265.5,697.5 273.5,698.5 281.5,699.5 289.5,699.5 297.5,700.5 305.5,702.5 313.5,703.5 321.5,706.5 329.5,709.5 337.5,713.5 345.5,717.5 353.5,721.5 361.5,724.5 369.5,728.5 377.5,733.5 385.5,735.5 393.5,738.5 401.5,740.5 409.5,741.5 417.5,741.5 425.5,741.5 433.5,740.5 441.5,738.5 449.5,735.5 457.5,730.5 465.5,726.5 473.5,721.5 481.5,716.5 489.5,711.5 497.5,707.5 505.5,703.5 513.5,701.5 521.5,701.5 529.5,701.5 537.5,702.5 545.5,704.5 553.5,705.5 561.5,707.5 569.5,708.5 577.5,708.5 585.5,707.5 593.5,706.5 601.5,706.5 609.5,705.5 617.5,703.5 625.5,702.5 633.5,700.5 641.5,700.5 649.5,701.5 657.5,700.5 665.5,699.5 673.5,698.5 681.5,697.5 689.5,695.5 697.5,694.5 705.5,691.5 713.5,687.5 721.5,683.5 729.5,680.5 737.5,676.5 745.5,673.5 753.5,671.5 761.5,670.5 769.5,668.5 777.5,669.5 785.5,670.5 793.5,672.5 801.5,674.5 809.5,677.5 817.5,679.5 825.5,682.5 833.5,684.5 841.5,686.5 849.5,689.5 857.5,691.5 865.5,693.5 873.5,695.5 881.5,698.5 889.5,699.5 897.5,701.5 905.5,702.5 913.5,702.5 921.5,702.5 929.5,702.5 937.5,701.5 945.5,699.5 953.5,697.5 961.5,695.5 969.5,693.5 977.5,692.5 985.5,692.5 993.5,692.5 1001.5,694.5 1009.5,696.5 1017.5,699.5 1025.5,703.5 1033.5,705.5 1041.5,709.5 1049.5,712.5 1057.5,713.5 1065.5,713.5 1073.5,711.5 1081.5,710.5 1089.5,706.5 1097.5,702.5 1105.5,698.5 1113.5,694.5 1121.5,690.5 1129.5,687.5 1137.5,685.5 1145.5,684.5 1153.5,682.5 1161.5,681.5 1169.5,681.5 1177.5,681.5 1185.5,681.5 1193.5,681.5 1201.5,682.5 1209.5,682.5 1217.5,682.5 1225.5,682.5 1233.5,682.5 1241.5,684.5" fill="none" stroke="#ff0000" stroke-width="1" stroke-dasharray="3 3"/>
</g>
<text x="16.3" y="37.6" font-size="9.5" fill="#000" stroke="#000" stroke-width="0.07" textLength="65" lengthAdjust="spacingAndGlyphs">USDCAD,Daily</text>
<text x="88.5" y="37.6" font-size="9.5" fill="#000" stroke="#000" stroke-width="0.07" textLength="32.1" lengthAdjust="spacingAndGlyphs">1.25144</text>
<text x="124.5" y="37.6" font-size="9.5" fill="#000" stroke="#000" stroke-width="0.07" textLength="32.1" lengthAdjust="spacingAndGlyphs">1.25180</text>
<text x="160.5" y="37.6" font-size="9.5" fill="#000" stroke="#000" stroke-width="0.07" textLength="32.1" lengthAdjust="spacingAndGlyphs">1.25100</text>
<text x="196.5" y="37.6" font-size="9.5" fill="#000" stroke="#000" stroke-width="0.07" textLength="32.1" lengthAdjust="spacingAndGlyphs">1.25106</text>
<path d="M4 33 L11 33 L7.5 37 Z" fill="#000"/>
<text x="5" y="567.8" font-size="9.5" fill="#000" stroke="#000" stroke-width="0.07" textLength="68" lengthAdjust="spacingAndGlyphs">RSI(14) 44.9906</text>
<text x="5.5" y="666.2" font-size="9.5" fill="#000" stroke="#000" stroke-width="0.07" textLength="153.3" lengthAdjust="spacingAndGlyphs">MACD(12,26,9) -0.001689 -0.001146</text>
<rect x="1578" y="55" width="2" height="1" fill="#000"/>
<text x="1583.5" y="59" font-size="9.5" fill="#000" stroke="#000" stroke-width="0.07" textLength="32.3" lengthAdjust="spacingAndGlyphs">1.33840</text>
<rect x="1578" y="88" width="2" height="1" fill="#000"/>
<text x="1583.5" y="92" font-size="9.5" fill="#000" stroke="#000" stroke-width="0.07" textLength="32.3" lengthAdjust="spacingAndGlyphs">1.33140</text>
<rect x="1578" y="121" width="2" height="1" fill="#000"/>
<text x="1583.5" y="125" font-size="9.5" fill="#000" stroke="#000" stroke-width="0.07" textLength="32.3" lengthAdjust="spacingAndGlyphs">1.32440</text>
<rect x="1578" y="154" width="2" height="1" fill="#000"/>
<text x="1583.5" y="158" font-size="9.5" fill="#000" stroke="#000" stroke-width="0.07" textLength="32.3" lengthAdjust="spacingAndGlyphs">1.31760</text>
<rect x="1578" y="187" width="2" height="1" fill="#000"/>
<text x="1583.5" y="191" font-size="9.5" fill="#000" stroke="#000" stroke-width="0.07" textLength="32.3" lengthAdjust="spacingAndGlyphs">1.31060</text>
<rect x="1578" y="220" width="2" height="1" fill="#000"/>
<text x="1583.5" y="224" font-size="9.5" fill="#000" stroke="#000" stroke-width="0.07" textLength="32.3" lengthAdjust="spacingAndGlyphs">1.30360</text>
<rect x="1578" y="253" width="2" height="1" fill="#000"/>
<text x="1583.5" y="257" font-size="9.5" fill="#000" stroke="#000" stroke-width="0.07" textLength="32.3" lengthAdjust="spacingAndGlyphs">1.29680</text>
<rect x="1578" y="286" width="2" height="1" fill="#000"/>
<text x="1583.5" y="290" font-size="9.5" fill="#000" stroke="#000" stroke-width="0.07" textLength="32.3" lengthAdjust="spacingAndGlyphs">1.28980</text>
<rect x="1578" y="319" width="2" height="1" fill="#000"/>
<text x="1583.5" y="323" font-size="9.5" fill="#000" stroke="#000" stroke-width="0.07" textLength="32.3" lengthAdjust="spacingAndGlyphs">1.28280</text>
<rect x="1578" y="352" width="2" height="1" fill="#000"/>
<text x="1583.5" y="356" font-size="9.5" fill="#000" stroke="#000" stroke-width="0.07" textLength="32.3" lengthAdjust="spacingAndGlyphs">1.27600</text>
<rect x="1578" y="385" width="2" height="1" fill="#000"/>
<text x="1583.5" y="389" font-size="9.5" fill="#000" stroke="#000" stroke-width="0.07" textLength="32.3" lengthAdjust="spacingAndGlyphs">1.26900</text>
<rect x="1578" y="418" width="2" height="1" fill="#000"/>
<text x="1583.5" y="422" font-size="9.5" fill="#000" stroke="#000" stroke-width="0.07" textLength="32.3" lengthAdjust="spacingAndGlyphs">1.26200</text>
<rect x="1578" y="451" width="2" height="1" fill="#000"/>
<text x="1583.5" y="455" font-size="9.5" fill="#000" stroke="#000" stroke-width="0.07" textLength="32.3" lengthAdjust="spacingAndGlyphs">1.25520</text>
<rect x="1578" y="484" width="2" height="1" fill="#000"/>
<text x="1583.5" y="488" font-size="9.5" fill="#000" stroke="#000" stroke-width="0.07" textLength="32.3" lengthAdjust="spacingAndGlyphs">1.24820</text>
<rect x="1578" y="517" width="2" height="1" fill="#000"/>
<text x="1583.5" y="521" font-size="9.5" fill="#000" stroke="#000" stroke-width="0.07" textLength="32.3" lengthAdjust="spacingAndGlyphs">1.24120</text>
<rect x="1578" y="550" width="2" height="1" fill="#000"/>
<text x="1583.5" y="554" font-size="9.5" fill="#000" stroke="#000" stroke-width="0.07" textLength="32.3" lengthAdjust="spacingAndGlyphs">1.23440</text>
<rect x="1579" y="124" width="41" height="11" fill="#ff0000"/>
<text x="1583.6" y="133" font-size="9.5" fill="#fff" stroke="#fff" stroke-width="0.07" textLength="32.1" lengthAdjust="spacingAndGlyphs">1.32258</text>
<rect x="1579" y="212" width="41" height="11" fill="#ff0000"/>
<text x="1583.6" y="221" font-size="9.5" fill="#fff" stroke="#fff" stroke-width="0.07" textLength="32.1" lengthAdjust="spacingAndGlyphs">1.30415</text>
<rect x="1579" y="297" width="41" height="11" fill="#ff0000"/>
<text x="1583.6" y="306" font-size="9.5" fill="#fff" stroke="#fff" stroke-width="0.07" textLength="32.1" lengthAdjust="spacingAndGlyphs">1.28616</text>
<rect x="1579" y="398" width="41" height="11" fill="#00ff00"/>
<text x="1583.6" y="407" font-size="9.5" fill="#fff" stroke="#fff" stroke-width="0.07" textLength="32.1" lengthAdjust="spacingAndGlyphs">1.26503</text>
<rect x="1579" y="465" width="41" height="11" fill="#000"/>
<text x="1583.6" y="474" font-size="9.5" fill="#fff" stroke="#fff" stroke-width="0.07" textLength="32.1" lengthAdjust="spacingAndGlyphs">1.25106</text>
<rect x="1579" y="468" width="41" height="11" fill="#0000ff"/>
<text x="1583.6" y="477" font-size="9.5" fill="#fff" stroke="#fff" stroke-width="0.07" textLength="32.1" lengthAdjust="spacingAndGlyphs">1.25019</text>
<rect x="1578" y="556" width="2" height="1" fill="#000"/>
<text x="1581.5" y="566.4" font-size="9.5" fill="#000" stroke="#000" stroke-width="0.07" textLength="14.4" lengthAdjust="spacingAndGlyphs">100</text>
<text x="1580.8" y="589.2" font-size="9.5" fill="#000" stroke="#000" stroke-width="0.07" textLength="9" lengthAdjust="spacingAndGlyphs">70</text>
<text x="1580.8" y="625.8" font-size="9.5" fill="#000" stroke="#000" stroke-width="0.07" textLength="9" lengthAdjust="spacingAndGlyphs">30</text>
<text x="1581.5" y="648.1" font-size="9.5" fill="#000" stroke="#000" stroke-width="0.07" textLength="4.3" lengthAdjust="spacingAndGlyphs">0</text>
<rect x="1578" y="650" width="2" height="1" fill="#000"/>
<text x="1581.5" y="664.5" font-size="9.5" fill="#000" stroke="#000" stroke-width="0.07" textLength="33" lengthAdjust="spacingAndGlyphs">0.00258</text>
<text x="1581.5" y="678.2" font-size="9.5" fill="#000" stroke="#000" stroke-width="0.07" textLength="18.5" lengthAdjust="spacingAndGlyphs">0.00</text>
<text x="1580.8" y="745.6" font-size="9.5" fill="#000" stroke="#000" stroke-width="0.07" textLength="42.5" lengthAdjust="spacingAndGlyphs">-0.009687</text>
<rect x="1578" y="748" width="1" height="1" fill="#000"/>
<rect x="1" y="750" width="1" height="3" fill="#000"/>
<text x="1.2" y="762.4" font-size="9.5" fill="#000" stroke="#000" stroke-width="0.07" textLength="49.8" lengthAdjust="spacingAndGlyphs">17 Oct 2020</text>
<rect x="65" y="750" width="1" height="3" fill="#000"/>
<text x="64.1" y="762.4" font-size="9.5" fill="#000" stroke="#000" stroke-width="0.07" textLength="50.6" lengthAdjust="spacingAndGlyphs">27 Oct 2020</text>
<rect x="129" y="750" width="1" height="3" fill="#000"/>
<text x="128.2" y="762.4" font-size="9.5" fill="#000" stroke="#000" stroke-width="0.07" textLength="48.9" lengthAdjust="spacingAndGlyphs">5 Nov 2020</text>
<rect x="193" y="750" width="1" height="3" fill="#000"/>
<text x="192.4" y="762.4" font-size="9.5" fill="#000" stroke="#000" stroke-width="0.07" textLength="53.5" lengthAdjust="spacingAndGlyphs">14 Nov 2020</text>
<rect x="257" y="750" width="1" height="3" fill="#000"/>
<text x="256.5" y="762.4" font-size="9.5" fill="#000" stroke="#000" stroke-width="0.07" textLength="53.5" lengthAdjust="spacingAndGlyphs">24 Nov 2020</text>
<rect x="321" y="750" width="1" height="3" fill="#000"/>
<text x="320.4" y="762.4" font-size="9.5" fill="#000" stroke="#000" stroke-width="0.07" textLength="46.4" lengthAdjust="spacingAndGlyphs">3 Dec 2020</text>
<rect x="385" y="750" width="1" height="3" fill="#000"/>
<text x="384.3" y="762.4" font-size="9.5" fill="#000" stroke="#000" stroke-width="0.07" textLength="51.3" lengthAdjust="spacingAndGlyphs">12 Dec 2020</text>
<rect x="449" y="750" width="1" height="3" fill="#000"/>
<text x="448.5" y="762.4" font-size="9.5" fill="#000" stroke="#000" stroke-width="0.07" textLength="51.3" lengthAdjust="spacingAndGlyphs">22 Dec 2020</text>
<rect x="513" y="750" width="1" height="3" fill="#000"/>
<text x="512.6" y="762.4" font-size="9.5" fill="#000" stroke="#000" stroke-width="0.07" textLength="43.9" lengthAdjust="spacingAndGlyphs">1 Jan 2021</text>
<rect x="577" y="750" width="1" height="3" fill="#000"/>
<text x="576.7" y="762.4" font-size="9.5" fill="#000" stroke="#000" stroke-width="0.07" textLength="48.8" lengthAdjust="spacingAndGlyphs">12 Jan 2021</text>
<rect x="641" y="750" width="1" height="3" fill="#000"/>
<text x="640.3" y="762.4" font-size="9.5" fill="#000" stroke="#000" stroke-width="0.07" textLength="48.8" lengthAdjust="spacingAndGlyphs">21 Jan 2021</text>
<rect x="705" y="750" width="1" height="3" fill="#000"/>
<text x="704.3" y="762.4" font-size="9.5" fill="#000" stroke="#000" stroke-width="0.07" textLength="49.3" lengthAdjust="spacingAndGlyphs">30 Jan 2021</text>
<rect x="769" y="750" width="1" height="3" fill="#000"/>
<text x="768.4" y="762.4" font-size="9.5" fill="#000" stroke="#000" stroke-width="0.07" textLength="46.1" lengthAdjust="spacingAndGlyphs">9 Feb 2021</text>
<rect x="833" y="750" width="1" height="3" fill="#000"/>
<text x="832.5" y="762.4" font-size="9.5" fill="#000" stroke="#000" stroke-width="0.07" textLength="51.1" lengthAdjust="spacingAndGlyphs">18 Feb 2021</text>
<rect x="897" y="750" width="1" height="3" fill="#000"/>
<text x="896.7" y="762.4" font-size="9.5" fill="#000" stroke="#000" stroke-width="0.07" textLength="51" lengthAdjust="spacingAndGlyphs">27 Feb 2021</text>
<rect x="961" y="750" width="1" height="3" fill="#000"/>
<text x="960.0" y="762.4" font-size="9.5" fill="#000" stroke="#000" stroke-width="0.07" textLength="46.2" lengthAdjust="spacingAndGlyphs">9 Mar 2021</text>
<rect x="1025" y="750" width="1" height="3" fill="#000"/>
<text x="1024.2" y="762.4" font-size="9.5" fill="#000" stroke="#000" stroke-width="0.07" textLength="51" lengthAdjust="spacingAndGlyphs">18 Mar 2021</text>
<rect x="1089" y="750" width="1" height="3" fill="#000"/>
<text x="1088.3" y="762.4" font-size="9.5" fill="#000" stroke="#000" stroke-width="0.07" textLength="51" lengthAdjust="spacingAndGlyphs">27 Mar 2021</text>
<rect x="1153" y="750" width="1" height="3" fill="#000"/>
<text x="1152.3" y="762.4" font-size="9.5" fill="#000" stroke="#000" stroke-width="0.07" textLength="45.5" lengthAdjust="spacingAndGlyphs">6 Apr 2021</text>
<rect x="1217" y="750" width="1" height="3" fill="#000"/>
<text x="1216.5" y="762.4" font-size="9.5" fill="#000" stroke="#000" stroke-width="0.07" textLength="49.9" lengthAdjust="spacingAndGlyphs">15 Apr 2021</text>
<rect x="0" y="770" width="1622" height="1" fill="#e3e3e3"/>
<rect x="0" y="771" width="1622" height="1" fill="#f7f7f7"/>
<rect x="0" y="772" width="1622" height="1" fill="#000"/>
<rect x="0" y="773" width="1622" height="1" fill="#fcfcfc"/>
<rect x="0" y="774" width="1622" height="18" fill="#f0f0f0"/>
<rect x="0" y="792" width="1622" height="1" fill="#fbfbfb"/>
<rect x="0" y="793" width="1622" height="3" fill="#efefef"/>
<rect x="0" y="796" width="1622" height="1" fill="#a0a0a0"/>
<rect x="310" y="772" width="103" height="19" fill="#000"/>
<rect x="311" y="772" width="101" height="18" fill="#fff"/>
<rect x="413" y="773" width="1" height="18" fill="#e3e3e3"/>
<text x="14.3" y="786.8" font-size="12.5" fill="#6d6d6d" textLength="79.4" lengthAdjust="spacingAndGlyphs">EURUSD,Daily</text>
<rect x="106" y="775" width="1" height="14" fill="#6d6d6d"/>
<text x="116.4" y="786.8" font-size="12.5" fill="#6d6d6d" textLength="78.4" lengthAdjust="spacingAndGlyphs">USDCHF,Daily</text>
<rect x="207" y="775" width="1" height="14" fill="#6d6d6d"/>
<text x="217.0" y="786.8" font-size="12.5" fill="#6d6d6d" textLength="81.9" lengthAdjust="spacingAndGlyphs">AUDUSD,Daily</text>
<text x="424.2" y="786.8" font-size="12.5" fill="#6d6d6d" textLength="82.3" lengthAdjust="spacingAndGlyphs">USDCNH,Daily</text>
<rect x="519" y="775" width="1" height="14" fill="#6d6d6d"/>
<text x="530.2" y="786.8" font-size="12.5" fill="#6d6d6d" textLength="79.4" lengthAdjust="spacingAndGlyphs">EURUSD,Daily</text>
<rect x="623" y="775" width="1" height="14" fill="#6d6d6d"/>
<text x="634.3" y="786.8" font-size="12.5" fill="#6d6d6d" textLength="79.4" lengthAdjust="spacingAndGlyphs">GBPUSD,Daily</text>
<rect x="727" y="775" width="1" height="14" fill="#6d6d6d"/>
<text x="736.9" y="786.8" font-size="12.5" fill="#6d6d6d" textLength="69.0" lengthAdjust="spacingAndGlyphs">XAUUSD,H4</text>
<rect x="819" y="775" width="1" height="14" fill="#6d6d6d"/>
<text x="830.0" y="786.8" font-size="12.5" fill="#6d6d6d" textLength="59.3" lengthAdjust="spacingAndGlyphs">HK50,M15</text>
<rect x="902" y="775" width="1" height="14" fill="#6d6d6d"/>
<text x="913.2" y="786.8" font-size="12.5" fill="#6d6d6d" textLength="56.7" lengthAdjust="spacingAndGlyphs">UK100,H1</text>
<rect x="982" y="775" width="1" height="14" fill="#6d6d6d"/>
<text x="993.3" y="786.8" font-size="12.5" fill="#6d6d6d" textLength="56.2" lengthAdjust="spacingAndGlyphs">UK100,H1</text>
<rect x="1063" y="775" width="1" height="14" fill="#6d6d6d"/>
<text x="1073.5" y="786.8" font-size="12.5" fill="#6d6d6d" textLength="56.0" lengthAdjust="spacingAndGlyphs">GER30,H1</text>
<rect x="1142" y="775" width="1" height="14" fill="#6d6d6d"/>
<text x="1152.4" y="786.8" font-size="12.5" fill="#6d6d6d" textLength="54.3" lengthAdjust="spacingAndGlyphs">FRA40,H1</text>
<rect x="1219" y="775" width="1" height="14" fill="#6d6d6d"/>
<text x="1228.5" y="786.8" font-size="12.5" fill="#6d6d6d" textLength="50.0" lengthAdjust="spacingAndGlyphs">USOil,H1</text>
<rect x="1290" y="775" width="1" height="14" fill="#6d6d6d"/>
<text x="1300.4" y="786.8" font-size="12.5" fill="#6d6d6d" textLength="62.1" lengthAdjust="spacingAndGlyphs">USDJPY,H1</text>
<rect x="1375" y="775" width="1" height="14" fill="#6d6d6d"/>
<text x="1385.3" y="786.8" font-size="12.5" fill="#6d6d6d" textLength="73.0" lengthAdjust="spacingAndGlyphs">DJ30,Weekly</text>
<rect x="1470" y="775" width="1" height="14" fill="#6d6d6d"/>
<text x="1480.4" y="786.8" font-size="12.5" fill="#6d6d6d" textLength="78.2" lengthAdjust="spacingAndGlyphs">CHINA300,H1</text>
<rect x="1570" y="775" width="1" height="14" fill="#6d6d6d"/>
<text x="321.5" y="786.8" font-size="12.5" fill="#000" textLength="80.5" lengthAdjust="spacingAndGlyphs">USDCAD,Daily</text>
<text x="1580.8" y="786.8" font-size="12.5" fill="#6d6d6d" textLength="6.4" lengthAdjust="spacingAndGlyphs">U</text>
<path d="M1593 781 L1596.5 777.5 L1596.5 784.5 Z" fill="#909090"/>
<path d="M1615.5 781 L1612 777.5 L1612 784.5 Z" fill="#000"/>
</svg>
</body></html>
